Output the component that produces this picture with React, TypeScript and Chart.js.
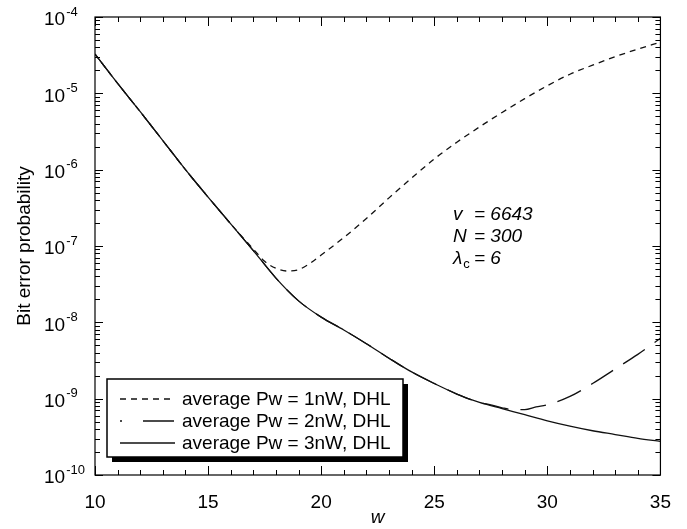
import { useEffect, useRef } from "react";
import { Chart, registerables } from "chart.js";

Chart.register(...registerables);

// ---- data ----
const w3nW = [10, 11, 12, 13, 14, 15, 16, 17, 18, 19, 20, 21, 22, 23, 24, 25, 26, 27, 28, 29, 30, 31, 32, 33, 34, 35];
const p3nW = [3.27e-5, 1.35e-5, 5.75e-6, 2.4e-6, 1.0e-6, 4.37e-7, 1.95e-7, 8.71e-8, 3.8e-8, 1.91e-8, 1.17e-8, 7.94e-9, 5.25e-9, 3.39e-9, 2.24e-9, 1.58e-9, 1.15e-9, 8.91e-10, 7.41e-10, 6.17e-10, 5.13e-10, 4.37e-10, 3.8e-10, 3.39e-10, 3.02e-10, 2.75e-10];

const w1nW = [10, 11, 12, 13, 14, 15, 16, 17, 17.5, 18, 18.5, 19, 19.5, 20, 21, 22, 23, 24, 25, 26, 27, 28, 29, 30, 31, 32, 33, 34, 35];
const p1nW = [3.27e-5, 1.35e-5, 5.75e-6, 2.4e-6, 1.0e-6, 4.37e-7, 1.95e-7, 9.1e-8, 6.3e-8, 5.1e-8, 4.7e-8, 4.9e-8, 5.9e-8, 7.6e-8, 1.29e-7, 2.29e-7, 4.27e-7, 7.76e-7, 1.38e-6, 2.29e-6, 3.63e-6, 5.62e-6, 8.51e-6, 1.26e-5, 1.78e-5, 2.34e-5, 3.02e-5, 3.8e-5, 4.68e-5];

const w2nW = [10, 11, 12, 13, 14, 15, 16, 17, 18, 19, 20, 21, 22, 23, 24, 25, 26, 27, 27.5, 28, 28.5, 29, 29.5, 30, 31, 32, 33, 34, 35];
const p2nW = [3.27e-5, 1.35e-5, 5.75e-6, 2.4e-6, 1.0e-6, 4.37e-7, 1.95e-7, 8.71e-8, 3.8e-8, 1.91e-8, 1.17e-8, 7.94e-9, 5.25e-9, 3.39e-9, 2.24e-9, 1.58e-9, 1.15e-9, 8.91e-10, 8.3e-10, 7.6e-10, 7.2e-10, 7.2e-10, 7.8e-10, 8.3e-10, 1.07e-9, 1.58e-9, 2.45e-9, 3.8e-9, 6.17e-9];

const seriesLabels = ["average Pw = 1nW, DHL", "average Pw = 2nW, DHL", "average Pw = 3nW, DHL"];
const yDecades = [1e-10, 1e-9, 1e-8, 1e-7, 1e-6, 1e-5, 1e-4];
const yExponents = ["-10", "-9", "-8", "-7", "-6", "-5", "-4"];
const xTickValues = [10, 15, 20, 25, 30, 35];
const annotationNames = ["v", "N", "λ"];
const annotationSubs = ["", "", "c"];
const annotationValues = ["= 6643", "= 300", "= 6"];

const FONT = "'Liberation Sans', Arial, Helvetica, sans-serif";

const toPoints = (xs: number[], ys: number[]) => xs.map((x, i) => ({ x, y: ys[i] }));

const framePlugin = {
  id: "frameTicks",
  afterDraw(chart: any) {
    const { ctx, chartArea: ca } = chart;
    const xs = chart.scales.x;
    const ys = chart.scales.y;
    ctx.save();
    ctx.strokeStyle = "#000";
    ctx.lineWidth = 1.2;
    ctx.strokeRect(ca.left, ca.top, ca.right - ca.left, ca.bottom - ca.top);
    ctx.lineWidth = 1;
    ctx.beginPath();
    for (let w = 10; w <= 35; w++) {
      const px = Math.round(xs.getPixelForValue(w)) + 0.5;
      const len = w % 5 === 0 ? 9 : 5;
      ctx.moveTo(px, ca.bottom);
      ctx.lineTo(px, ca.bottom - len);
      ctx.moveTo(px, ca.top);
      ctx.lineTo(px, ca.top + len);
    }
    for (let d = 0; d < yDecades.length; d++) {
      const base = yDecades[d];
      const maxM = d === yDecades.length - 1 ? 1 : 9;
      for (let m = 1; m <= maxM; m++) {
        const py = Math.round(ys.getPixelForValue(base * m)) + 0.5;
        const len = m === 1 ? 8 : 5;
        ctx.moveTo(ca.left, py);
        ctx.lineTo(ca.left + len, py);
        ctx.moveTo(ca.right, py);
        ctx.lineTo(ca.right - len, py);
      }
    }
    ctx.stroke();

    // y tick labels with superscript exponents
    ctx.fillStyle = "#000";
    ctx.textBaseline = "middle";
    ctx.textAlign = "left";
    for (let d = 0; d < yDecades.length; d++) {
      const py = ys.getPixelForValue(yDecades[d]);
      ctx.font = `19px ${FONT}`;
      ctx.fillText("10", 44, py + 3);
      const wBase = ctx.measureText("10").width;
      ctx.font = `13px ${FONT}`;
      ctx.fillText(yExponents[d], 44 + wBase + 1, py - 5);
    }
    ctx.restore();
  },
};

const legendPlugin = {
  id: "boxLegend",
  afterDraw(chart: any) {
    const { ctx } = chart;
    const bx = 107, by = 379, bw = 296, bh = 78;
    ctx.save();
    ctx.fillStyle = "#000";
    ctx.fillRect(bx + 5, by + 5, bw, bh);
    ctx.fillStyle = "#fff";
    ctx.fillRect(bx, by, bw, bh);
    ctx.strokeStyle = "#000";
    ctx.lineWidth = 1.5;
    ctx.strokeRect(bx, by, bw, bh);
    const rows = [399, 421, 443];
    const order = [0, 1, 2];
    order.forEach((di, r) => {
      const ds = chart.data.datasets[di];
      const y = rows[r];
      ctx.strokeStyle = ds.borderColor;
      ctx.lineWidth = ds.borderWidth;
      ctx.beginPath();
      if (di === 1) {
        ctx.setLineDash([]);
        ctx.moveTo(120, y);
        ctx.lineTo(122, y);
        ctx.moveTo(143, y);
        ctx.lineTo(174, y);
      } else {
        ctx.setLineDash(ds.borderDash || []);
        ctx.moveTo(120, y);
        ctx.lineTo(175, y);
      }
      ctx.stroke();
      ctx.setLineDash([]);
      ctx.fillStyle = "#000";
      ctx.font = `19px ${FONT}`;
      ctx.textBaseline = "middle";
      ctx.textAlign = "left";
      ctx.fillText(ds.label, 182, y + 1);
    });
    ctx.restore();
  },
};

const annotationPlugin = {
  id: "paramText",
  afterDraw(chart: any) {
    const { ctx } = chart;
    const rows = [215, 237, 259];
    ctx.save();
    ctx.fillStyle = "#000";
    ctx.textBaseline = "middle";
    ctx.textAlign = "left";
    rows.forEach((y, i) => {
      ctx.font = `italic 19px ${FONT}`;
      ctx.fillText(annotationNames[i], 453, y);
      if (annotationSubs[i]) {
        const wn = ctx.measureText(annotationNames[i]).width;
        ctx.font = `13px ${FONT}`;
        ctx.fillText(annotationSubs[i], 453 + wn + 1, y + 5);
      }
      ctx.font = `italic 19px ${FONT}`;
      ctx.fillText(annotationValues[i], 474, y);
    });
    ctx.restore();
  },
};

export default function App() {
  const canvasRef = useRef<HTMLCanvasElement | null>(null);

  useEffect(() => {
    if (!canvasRef.current) return;
    const chart = new Chart(canvasRef.current, {
      type: "line",
      data: {
        datasets: [
          {
            label: seriesLabels[0],
            data: toPoints(w1nW, p1nW),
            borderColor: "#111",
            borderWidth: 1.3,
            borderDash: [6, 5],
            pointRadius: 0,
            fill: false,
            cubicInterpolationMode: "monotone",
          },
          {
            label: seriesLabels[1],
            data: toPoints(w2nW, p2nW),
            borderColor: "#111",
            borderWidth: 1.3,
            borderDash: [26, 12],
            pointRadius: 0,
            fill: false,
            cubicInterpolationMode: "monotone",
          },
          {
            label: seriesLabels[2],
            data: toPoints(w3nW, p3nW),
            borderColor: "#111",
            borderWidth: 1.3,
            pointRadius: 0,
            fill: false,
            cubicInterpolationMode: "monotone",
          },
        ],
      },
      options: {
        animation: false,
        responsive: false,
        devicePixelRatio: 1,
        layout: { padding: { top: 17, right: 19, left: 0, bottom: 0 } },
        plugins: { legend: { display: false }, tooltip: { enabled: false } },
        scales: {
          x: {
            type: "linear",
            min: 10,
            max: 35,
            grid: { display: false, drawTicks: false },
            border: { display: false },
            afterBuildTicks: (scale: any) => {
              scale.ticks = xTickValues.map((v) => ({ value: v }));
            },
            afterFit: (scale: any) => {
              scale.height = 54;
            },
            ticks: {
              color: "#000",
              padding: 16,
              maxRotation: 0,
              font: { family: FONT, size: 19 },
            },
            title: {
              display: true,
              text: "w",
              color: "#000",
              padding: { top: 0, bottom: 0 },
              font: { family: FONT, size: 19, style: "italic" },
            },
          },
          y: {
            type: "logarithmic",
            min: 1e-10,
            max: 1e-4,
            grid: { display: false, drawTicks: false },
            border: { display: false },
            afterBuildTicks: (scale: any) => {
              scale.ticks = yDecades.map((v) => ({ value: v }));
            },
            afterFit: (scale: any) => {
              scale.width = 95;
            },
            ticks: { display: false },
            title: {
              display: true,
              text: "Bit error probability",
              color: "#000",
              padding: { top: 13, bottom: 0 },
              font: { family: FONT, size: 19 },
            },
          },
        },
      },
      plugins: [framePlugin, legendPlugin, annotationPlugin],
    } as any);
    return () => chart.destroy();
  }, []);

  return (
    <div style={{ position: "absolute", left: 0, top: 0, width: 687, height: 529, background: "#fff" }}>
      <canvas ref={canvasRef} width={687} height={529} style={{ width: 687, height: 529, display: "block" }} />
    </div>
  );
}
